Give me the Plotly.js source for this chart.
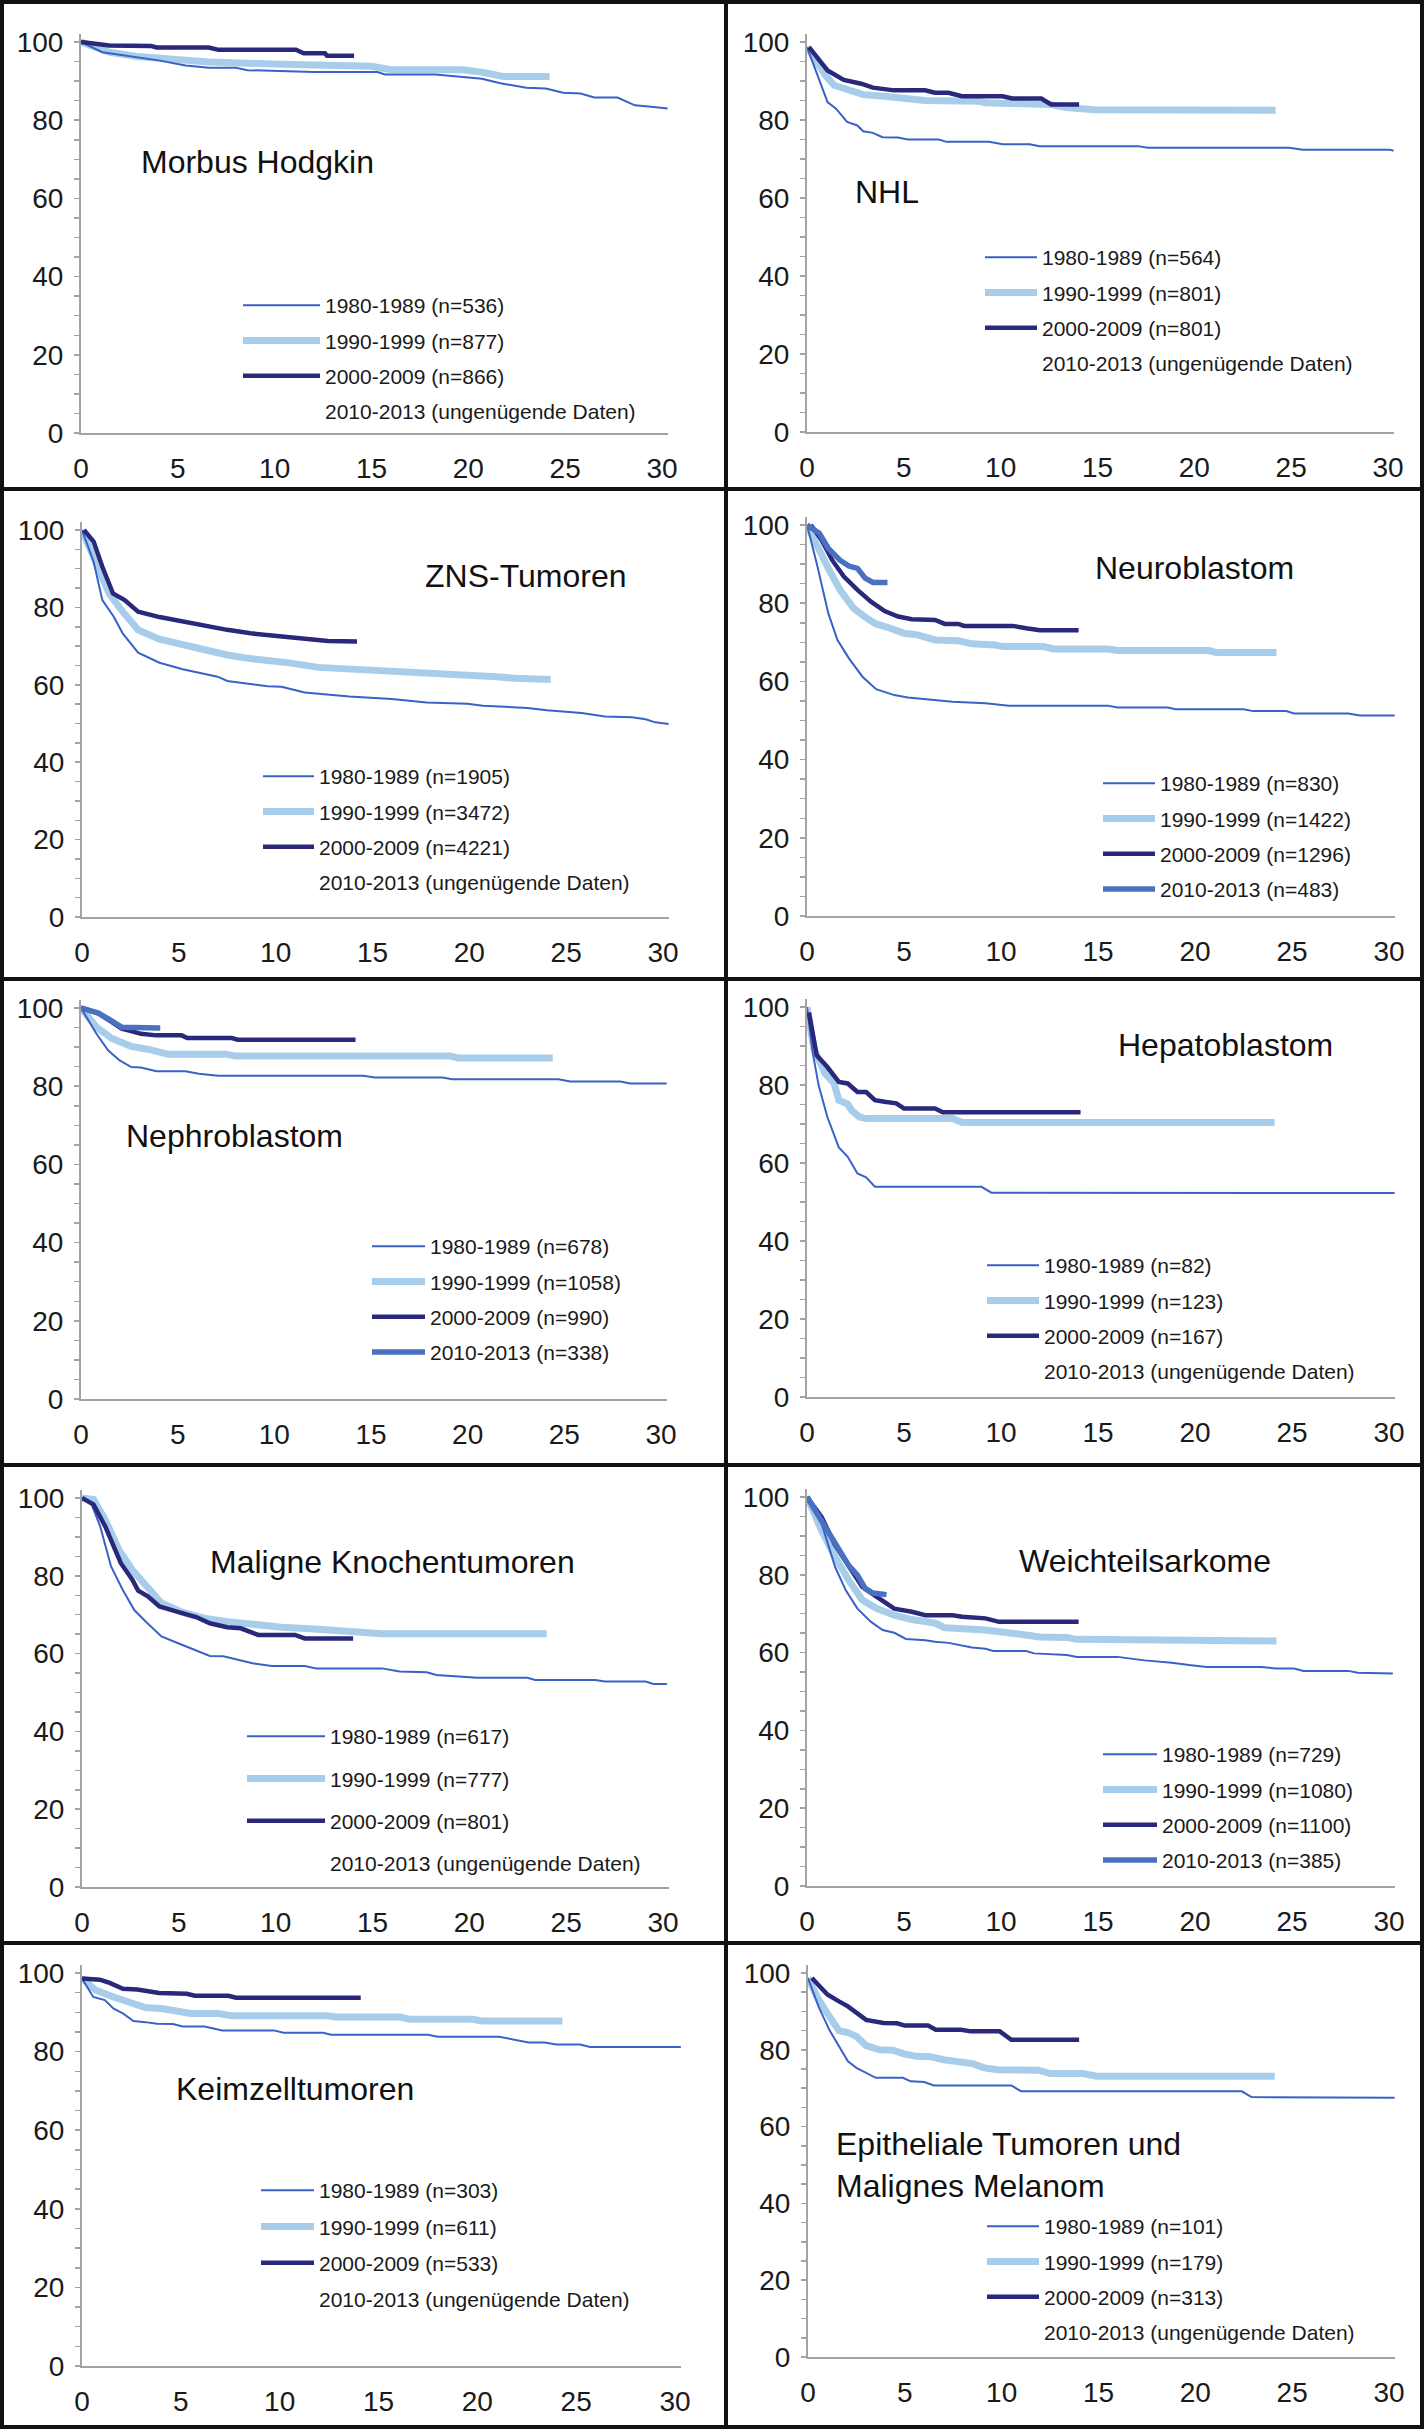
<!DOCTYPE html>
<html>
<head>
<meta charset="utf-8">
<script src="https://cdn.plot.ly/plotly-3.0.1.min.js"></script>
<style>
  html, body { margin: 0; padding: 0; background: #fff; }
  #graph { width: 1425px; height: 2429px; }
</style>
</head>
<body>
<div id="graph"></div>
<script>
const W = 1425, H = 2429;
const XMAX = 30.3, YMAX = 102;

const hodgkin_1980 = [[0,100],[1.1,97.4],[4,95.3],[5.4,94],[6.6,93.4],[8,93.4],[8.6,92.8],[12,92.3],[15.3,92.3],[15.7,91.7],[18.3,91.7],[19.3,91.2],[20.7,90.6],[21.6,89.5],[22.3,88.9],[23,88.3],[24,88.1],[24.9,87],[25.8,86.8],[26.5,85.8],[27.7,85.8],[28.6,83.8],[29.3,83.5],[30.3,83.0]];
const hodgkin_1990 = [[0,100],[1.45,97.4],[2.9,96.3],[4.3,95.7],[5.7,95.1],[6.6,94.9],[9.9,94.4],[12.2,94.0],[15,93.8],[16,92.9],[19.7,92.9],[20.7,92.3],[21.4,91.7],[21.8,91.2],[24.2,91.2]];
const hodgkin_2000 = [[0,100],[0.8,99.6],[1.45,99.1],[3.6,99.0],[3.9,98.6],[6.6,98.6],[7.1,98],[11.1,98],[11.5,97.1],[12.6,97.1],[12.7,96.5],[14.1,96.5]];

const nhl_1980 = [[0,98.7],[0.5,92.3],[1.06,84.6],[1.5,82.9],[2.07,79.5],[2.6,78.6],[2.9,77.1],[3.4,76.7],[3.9,75.6],[4.7,75.5],[5.2,75.0],[6.8,75.0],[7.2,74.4],[9.4,74.4],[10.1,73.8],[11.5,73.8],[12,73.3],[17.1,73.3],[17.6,72.9],[24.9,72.9],[25.6,72.4],[30.1,72.4],[30.3,72.1]];
const nhl_1990 = [[0,98.7],[0.94,91.5],[1.4,88.9],[2.1,87.6],[2.9,86.5],[4,86.1],[4.9,85.5],[6.1,85.0],[8.9,84.8],[9.2,84.4],[12.5,84.0],[13.4,83.2],[14.8,82.6],[24.2,82.5]];
const nhl_2000 = [[0.1,98.7],[1.06,92.7],[1.9,90.3],[2.8,89.3],[3.4,88.3],[4.2,88.0],[4.5,87.6],[6.1,87.6],[6.6,87.0],[7.3,87.0],[8,86.1],[10.1,86.1],[10.6,85.5],[12.1,85.5],[12.6,84.0],[14.05,84.0]];

const zns_1980 = [[0,100],[0.6,91.8],[1.05,81.9],[1.64,77.6],[2.1,73.3],[2.9,68.3],[4,65.7],[5.2,64.0],[7,62.1],[7.5,61.0],[9.6,59.6],[10.3,59.5],[11.5,58.0],[13.8,57.0],[16,56.3],[17.8,55.4],[19.9,55.1],[20.7,54.6],[23,54.0],[24,53.4],[25.8,52.7],[27,51.8],[28.4,51.6],[29.1,51.1],[29.6,50.3],[30.3,49.9]];
const zns_1990 = [[0,100],[0.8,90.5],[1.4,83.6],[2.1,78.9],[2.9,74.2],[4,71.8],[5.2,70.3],[6.3,69.0],[7.5,67.7],[8.5,66.9],[9.9,66.3],[10.8,65.6],[12.2,64.5],[14.3,64.0],[15.3,63.7],[17.1,63.4],[17.8,63.0],[19.9,62.6],[21.4,62.1],[22.3,61.7],[24.2,61.4]];
const zns_2000 = [[0.1,100],[0.6,97],[1.05,90.5],[1.6,83.6],[2.2,81.9],[2.9,78.9],[4,77.5],[5.2,76.3],[6.3,75.3],[7.5,74.2],[8.7,73.3],[10.3,72.6],[11.7,72.0],[12.7,71.3],[14.2,71.2]];

const neuro_1980 = [[0,100],[0.5,90.2],[1.1,77.4],[1.57,70.6],[2.16,65.9],[2.86,61.2],[3.56,58.0],[4.5,56.5],[5.2,55.9],[6.4,55.4],[7.5,54.8],[9.2,54.4],[10.4,53.8],[15.5,53.8],[16,53.3],[18.6,53.3],[19,52.9],[22.5,52.9],[23,52.4],[24.7,52.4],[25.1,51.8],[27.9,51.8],[28.5,51.3],[30.3,51.3]];
const neuro_1990 = [[0,100],[0.5,94.5],[1.1,88.9],[1.7,83.4],[2.4,78.7],[3.1,76.1],[3.56,74.7],[4.3,73.6],[5,72.3],[5.7,71.9],[6.6,70.6],[7.8,70.4],[8.5,69.6],[9.7,69.3],[10.1,68.9],[12.2,68.9],[12.7,68.3],[15.5,68.3],[16,67.9],[20.7,67.9],[21.1,67.4],[24.2,67.4]];
const neuro_2000 = [[0.2,100],[0.75,96.2],[1.3,91.0],[1.9,86.8],[2.6,83.4],[3.3,80.4],[4.0,78.0],[4.7,76.6],[5.4,75.9],[6.6,75.7],[7.1,74.7],[7.8,74.7],[8.1,74.2],[10.6,74.2],[11.3,73.6],[12,73.1],[14,73.1]];
const neuro_2010 = [[0,100],[0.63,97.9],[1.1,94.0],[1.7,91.0],[2.16,89.5],[2.6,88.9],[3.0,86.4],[3.4,85.3],[4.15,85.3]];

const nephro_1980 = [[0,100],[0.8,93.4],[1.4,89.2],[2.0,86.6],[2.6,84.9],[3.1,84.8],[3.9,83.8],[5.4,83.8],[6.1,83.2],[7.1,82.7],[14.6,82.7],[15.2,82.2],[18.7,82.2],[19.2,81.8],[24.7,81.8],[25.3,81.2],[27.9,81.2],[28.4,80.7],[30.3,80.7]];
const nephro_1990 = [[0,100],[0.8,95.1],[1.6,92.2],[2.6,90.2],[3.5,89.4],[4.5,88.2],[7.5,88.2],[8,87.7],[19.1,87.7],[19.5,87.2],[24.4,87.2]];
const nephro_2000 = [[0,100],[0.9,98.6],[1.6,96.4],[2.1,94.7],[2.6,94.1],[3.1,93.4],[3.9,93.0],[5.2,93.0],[5.5,92.3],[7.8,92.3],[8.1,91.9],[14.2,91.9]];
const nephro_2010 = [[0,100],[0.9,98.7],[1.5,97.0],[2.1,95.1],[4.1,94.9]];

const hepato_1980 = [[0,100],[0.3,88.1],[0.6,79.9],[1.05,71.8],[1.64,64.0],[2.1,61.6],[2.6,57.3],[3.05,56.3],[3.5,53.9],[9.0,53.9],[9.5,52.4],[30.3,52.3]];
const hepato_1990 = [[0,100],[0.35,89.3],[0.94,82.9],[1.4,80.4],[1.64,76.1],[2.1,75.1],[2.3,73.5],[2.7,71.8],[3.05,71.4],[7.5,71.4],[8,70.4],[24.1,70.4]];
const hepato_2000 = [[0.1,98.6],[0.5,87.6],[1.05,84.6],[1.64,80.8],[2.1,80.4],[2.6,78.2],[3.05,78.2],[3.5,76.1],[4.0,75.7],[4.6,75.3],[5.0,74.0],[6.6,74.0],[7.0,73.0],[14.1,73.0]];

const knochen_1980 = [[0,100],[0.47,98.7],[0.94,92.7],[1.5,82.4],[2.1,76.4],[2.7,71.2],[3.3,68.2],[4.1,64.4],[4.9,62.8],[5.6,61.4],[6.6,59.4],[7.3,59.3],[8,58.4],[8.8,57.5],[9.8,56.8],[11.5,56.8],[12.1,56.2],[15.5,56.2],[16.4,55.4],[17.8,55.2],[18.3,54.5],[20.4,53.8],[23,53.8],[23.4,53.2],[26.5,53.2],[27,52.8],[29.1,52.8],[29.5,52.2],[30.2,52.2]];
const knochen_1990 = [[0,100],[0.6,99.6],[1.2,94.4],[1.9,86.7],[2.6,81.5],[3.3,77.7],[4.1,73.0],[5.2,70.6],[6.3,69.1],[7.5,68.2],[8.9,67.4],[10.3,66.8],[12,66.3],[13.6,65.7],[15.5,65.1],[24,65.1]];
const knochen_2000 = [[0,100],[0.6,98.3],[1.2,92.7],[2.0,83.3],[2.6,79.0],[2.9,76.2],[3.4,74.7],[4.0,72.1],[4.9,70.8],[5.9,69.4],[6.6,67.8],[7.5,66.8],[8.2,66.5],[8.7,65.7],[9.1,64.8],[11,64.8],[11.5,63.9],[14,63.9]];

const weich_1980 = [[0,100],[0.75,93.2],[1.45,82.0],[2.0,76.0],[2.6,71.3],[3.3,67.9],[3.9,65.8],[4.5,65.1],[5.1,63.5],[6.1,63.2],[6.6,62.8],[7.3,62.5],[8.5,61.3],[9.2,61.0],[9.6,60.4],[11.3,60.4],[11.7,59.8],[13.4,59.4],[13.9,58.9],[16,58.9],[17.4,58.0],[18.8,57.4],[19.7,56.8],[20.6,56.3],[23.4,56.3],[24.2,55.9],[25.1,55.9],[25.6,55.3],[27.9,55.3],[28.4,54.8],[30.2,54.6]];
const weich_1990 = [[0,100],[0.75,91.4],[1.45,84.6],[2.15,78.6],[2.85,73.5],[3.6,71.3],[4.5,69.6],[5.4,68.5],[6.6,67.6],[7.1,66.4],[9.2,65.8],[10.3,65.3],[11.0,64.7],[12,64.0],[13.4,63.9],[13.9,63.4],[17.6,63.4],[18.1,63.0],[24.2,63.0]];
const weich_2000 = [[0,100],[0.75,94.9],[1.45,87.6],[2.15,82.0],[2.85,76.9],[3.6,74.3],[4.5,71.3],[5.4,70.5],[6.1,69.6],[7.5,69.6],[8,69.2],[9.2,68.8],[9.9,67.9],[14,67.9]];
const weich_2010 = [[0,100],[0.75,94.0],[1.45,88.0],[2.15,82.4],[2.6,79.9],[3.0,76.5],[3.4,75.3],[4.1,74.9]];

const keim_1980 = [[0,98.6],[0.57,93.9],[1.15,93.1],[1.6,90.9],[2.07,89.7],[2.6,87.8],[3.2,87.5],[3.8,87.1],[4.6,87.0],[5.1,86.4],[6.2,86.4],[7.1,85.4],[9.7,85.4],[10.2,84.8],[12.2,84.8],[12.6,84.3],[17.5,84.3],[18,83.8],[21.1,83.8],[22.6,82.3],[23.4,82.3],[24,81.8],[25.2,81.8],[25.7,81.2],[30.3,81.2]];
const keim_1990 = [[0,98.6],[0.7,95.6],[1.6,93.9],[2.5,92.2],[3.2,91.2],[4.1,90.9],[5.1,90.3],[5.5,89.7],[6.9,89.7],[7.6,89.1],[12.4,89.1],[12.9,88.8],[16.1,88.8],[16.6,88.2],[19.8,88.2],[20.2,87.8],[24.3,87.8]];
const keim_2000 = [[0,98.6],[0.9,98.3],[1.4,97.5],[2.07,96.0],[2.8,95.8],[3.2,95.4],[3.9,94.9],[5.3,94.7],[5.7,94.2],[7.4,94.2],[7.8,93.7],[14.1,93.7]];

const epi_1980 = [[0,98.7],[0.54,91.3],[1.1,85.2],[1.6,80.9],[2.06,77.0],[2.5,75.3],[3.0,74.1],[3.5,72.7],[4.9,72.7],[5.3,71.8],[6.0,71.6],[6.5,70.7],[10.5,70.7],[11.0,69.2],[22.4,69.2],[22.9,67.7],[30.3,67.5]];
const epi_1990 = [[0,98.7],[0.54,93.1],[1.1,88.7],[1.6,85.0],[2.06,84.5],[2.5,83.5],[3.0,81.1],[3.7,80.0],[4.4,79.9],[4.9,79.0],[5.6,78.3],[6.3,78.2],[7.0,77.4],[7.9,76.8],[8.5,76.4],[9.1,75.3],[9.8,74.8],[11.9,74.7],[12.5,73.8],[14.2,73.8],[14.9,73.1],[24.1,73.1]];
const epi_2000 = [[0.2,98.7],[1.0,94.4],[1.6,92.6],[2.06,91.3],[3.0,87.8],[3.9,87.0],[4.6,86.9],[5.0,86.3],[6.2,86.3],[6.6,85.2],[7.9,85.2],[8.4,84.8],[9.9,84.8],[10.5,82.6],[14.0,82.6]];

const titles = ['Morbus Hodgkin', 'NHL', 'ZNS-Tumoren', 'Neuroblastom', 'Nephroblastom',
    'Hepatoblastom', 'Maligne Knochentumoren', 'Weichteilsarkome', 'Keimzelltumoren',
    'Epitheliale Tumoren und<br>Malignes Melanom'];
const periods = ['1980-1989', '1990-1999', '2000-2009', '2010-2013'];
// null = "ungenügende Daten"
const counts = [
    [536, 877, 866, null], [564, 801, 801, null], [1905, 3472, 4221, null], [830, 1422, 1296, 483],
    [678, 1058, 990, 338], [82, 123, 167, null], [617, 777, 801, null], [729, 1080, 1100, 385],
    [303, 611, 533, null], [101, 179, 313, null]];
const curves = [
    [hodgkin_1980, hodgkin_1990, hodgkin_2000, null],
    [nhl_1980, nhl_1990, nhl_2000, null],
    [zns_1980, zns_1990, zns_2000, null],
    [neuro_1980, neuro_1990, neuro_2000, neuro_2010],
    [nephro_1980, nephro_1990, nephro_2000, nephro_2010],
    [hepato_1980, hepato_1990, hepato_2000, null],
    [knochen_1980, knochen_1990, knochen_2000, null],
    [weich_1980, weich_1990, weich_2000, weich_2010],
    [keim_1980, keim_1990, keim_2000, null],
    [epi_1980, epi_1990, epi_2000, null]];

// Panel-Geometrie in Pixeln
const geo = [
    {x0: 81, x30: 662, y0: 433, y100: 42, lx: 243, ly: 302, lgap: 35, lw: 77, tx: 139, ty: 162},
    {x0: 807, x30: 1388, y0: 432, y100: 42, lx: 985, ly: 254, lgap: 35, lw: 52, tx: 853, ty: 192},
    {x0: 82, x30: 663, y0: 917, y100: 530, lx: 263, ly: 773, lgap: 35, lw: 51, tx: 423, ty: 576},
    {x0: 807, x30: 1389, y0: 916, y100: 525, lx: 1103, ly: 780, lgap: 35, lw: 52, tx: 1093, ty: 568},
    {x0: 81, x30: 661, y0: 1399, y100: 1008, lx: 372, ly: 1243, lgap: 35, lw: 53, tx: 124, ty: 1136},
    {x0: 807, x30: 1389, y0: 1397, y100: 1007, lx: 987, ly: 1262, lgap: 35, lw: 52, tx: 1116, ty: 1045},
    {x0: 82, x30: 663, y0: 1887, y100: 1498, lx: 247, ly: 1733, lgap: 42, lw: 78, tx: 208, ty: 1562},
    {x0: 807, x30: 1389, y0: 1886, y100: 1497, lx: 1103, ly: 1751, lgap: 35, lw: 54, tx: 1017, ty: 1561},
    {x0: 82, x30: 675, y0: 2366, y100: 1973, lx: 261, ly: 2187, lgap: 36, lw: 53, tx: 174, ty: 2089},
    {x0: 808, x30: 1389, y0: 2357, y100: 1973, lx: 987, ly: 2223, lgap: 35, lw: 52, tx: 834, ty: 2165}
];

const lineStyles = [
    {color: '#3a61c8', width: 2},
    {color: '#a8cdeb', width: 7},
    {color: '#29287a', width: 4.5},
    {color: '#4a70c2', width: 5.5}
];
const drawOrder = [1, 0, 2, 3];

const fontFam = 'Liberation Sans, Arial, Helvetica, sans-serif';
const fx = p => p / W;
const fy = p => 1 - p / H;

function init_data() {
    let data = [];
    for (let i = 0; i < curves.length; i++) {
        let s = i === 0 ? '' : String(i + 1);
        for (let k of drawOrder) {
            let pts = curves[i][k];
            let label = counts[i][k] === null
                ? periods[k] + ' (ungenügende Daten)'
                : periods[k] + ' (n=' + counts[i][k] + ')';
            if (pts === null && k !== 3) continue;
            data.push({
                type: 'scatter',
                mode: 'lines',
                x: pts ? pts.map(p => p[0]) : [null],
                y: pts ? pts.map(p => p[1]) : [null],
                xaxis: 'x' + s,
                yaxis: 'y' + s,
                name: label,
                legend: 'legend' + s,
                legendgroup: 'g' + i + '_' + k,
                legendrank: k + 1,
                line: pts ? {color: lineStyles[k].color, width: lineStyles[k].width}
                          : {color: 'rgba(0,0,0,0)', width: 1},
                hoverinfo: 'skip'
            });
        }
    }
    return data;
}

function init_layout() {
    let layout = {
        width: W,
        height: H,
        margin: {l: 0, r: 0, t: 0, b: 0},
        paper_bgcolor: '#fff',
        plot_bgcolor: 'rgba(0,0,0,0)',
        font: {family: fontFam, color: '#1a1a1a'},
        showlegend: true,
        annotations: [],
        shapes: []
    };
    for (let i = 0; i < geo.length; i++) {
        let g = geo[i];
        let s = i === 0 ? '' : String(i + 1);
        let xEnd = g.x0 + (g.x30 - g.x0) * XMAX / 30;
        let yTop = g.y0 - (g.y0 - g.y100) * YMAX / 100;
        layout['xaxis' + s] = {
            domain: [fx(g.x0), fx(xEnd)],
            anchor: 'y' + s,
            range: [0, XMAX],
            tickvals: [0, 5, 10, 15, 20, 25, 30],
            ticks: '',
            ticklabelstandoff: 9,
            showline: true,
            linecolor: '#a3a3a3',
            linewidth: 2,
            showgrid: false,
            zeroline: false,
            tickfont: {size: 28, family: fontFam, color: '#1a1a1a'},
            fixedrange: true
        };
        layout['yaxis' + s] = {
            domain: [fy(g.y0), fy(yTop)],
            anchor: 'x' + s,
            range: [0, YMAX],
            tickvals: [0, 20, 40, 60, 80, 100],
            ticks: 'outside',
            ticklen: 5,
            tickwidth: 1.5,
            tickcolor: '#a3a3a3',
            minor: {tickvals: [5, 10, 15, 25, 30, 35, 45, 50, 55, 65, 70, 75, 85, 90, 95], ticks: 'outside', ticklen: 5, tickwidth: 1.5, tickcolor: '#a3a3a3'},
            ticklabelstandoff: 5,
            showline: true,
            linecolor: '#a3a3a3',
            linewidth: 2,
            showgrid: false,
            zeroline: false,
            tickfont: {size: 28, family: fontFam, color: '#1a1a1a'},
            fixedrange: true
        };
        layout['legend' + s] = {
            x: fx(g.lx - 5),
            y: fy(g.ly - 17),
            xanchor: 'left',
            yanchor: 'top',
            bgcolor: 'rgba(0,0,0,0)',
            borderwidth: 0,
            itemwidth: g.lw,
            tracegroupgap: g.lgap - 30,
            font: {size: 21, family: fontFam, color: '#1a1a1a'}
        };
        layout.annotations.push({
            text: titles[i],
            xref: 'paper', yref: 'paper',
            x: fx(g.tx), y: fy(g.ty),
            xanchor: 'left', yanchor: 'middle', align: 'left',
            showarrow: false,
            font: {size: 32, family: fontFam, color: '#111'}
        });
    }
    // Rahmen
    let border = {type: 'line', xref: 'paper', yref: 'paper', line: {color: '#111', width: 4}};
    layout.shapes.push(Object.assign({}, border, {type: 'rect', x0: fx(2), x1: fx(1422), y0: fy(2427), y1: fy(2)}));
    layout.shapes.push(Object.assign({}, border, {x0: fx(726), x1: fx(726), y0: fy(2427), y1: fy(2)}));
    for (let yb of [489, 979, 1465, 1943]) {
        layout.shapes.push(Object.assign({}, border, {x0: fx(2), x1: fx(1422), y0: fy(yb), y1: fy(yb)}));
    }
    return layout;
}

Plotly.newPlot('graph', init_data(), init_layout(), {displayModeBar: false, staticPlot: true});
</script>
</body>
</html>
